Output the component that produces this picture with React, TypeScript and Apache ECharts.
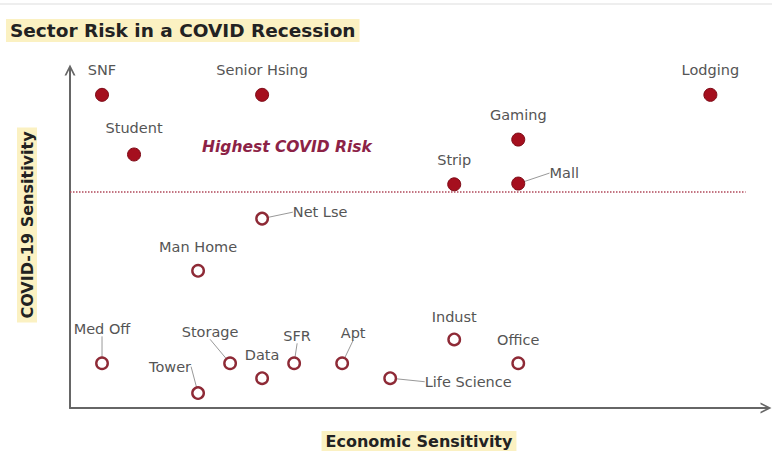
import React, { useEffect, useRef } from "react";
import * as echarts from "echarts";

const highNames = ["SNF", "Senior Hsing", "Student", "Lodging", "Gaming", "Strip", "Mall"];
const highX = [1, 6, 2, 20, 14, 12, 14];
const highY = [21, 21, 17, 21, 18, 15, 15.05];

const lowNames = ["Net Lse", "Man Home", "Med Off", "Tower", "Storage", "Data", "SFR", "Apt", "Life Science", "Indust", "Office"];
const lowX = [6, 4, 1, 4, 5, 6, 7, 8.5, 10, 12, 14];
const lowY = [12.7, 9.2, 3, 1, 3, 2, 3, 3, 2, 4.6, 3];

const riskThreshold = 14.5;
const riskLineEndX = 21.1;
const xMax = 21.8;
const yMax = 22.8;

// label offsets (dx, dy) relative to the default "top" label position, and whether a leader line is drawn
const highLabelShift: [number, number, boolean][] = [
  [0, -2, false], [0, -2, false], [0, -4, false], [0, -2, false], [0, -2, false], [0, -2, false], [46, 12, true],
];
const lowLabelShift: [number, number, boolean][] = [
  [58, 16, true], [0, -1, false], [0, -12, true], [-28, -4, true], [-20, -9, true], [0, -1, false],
  [3, -5, true], [11, -8, true], [78, 26, true], [0, 0, false], [0, -1, false],
];

const chevron = "path://M0,10 L5,0 L10,10 L8.3,10 L5,3.4 L1.7,10 Z";

export default function App() {
  const ref = useRef<HTMLDivElement>(null);
  useEffect(() => {
    if (!ref.current) return;
    const chart = echarts.init(ref.current, null, { renderer: "svg" });
    const font = "'DejaVu Sans', Verdana, sans-serif";
    const labelBase = {
      show: true,
      position: "top" as const,
      distance: 8,
      color: "#555",
      fontSize: 14.5,
      fontFamily: font,
      formatter: (p: any) => p.name,
    };
    const mk = (names: string[], xs: number[], ys: number[], shift: [number, number, boolean][]) =>
      names.map((n, i) => ({
        name: n,
        value: [xs[i], ys[i]],
        labelLine: { show: shift[i][2], lineStyle: { color: "#999", width: 1 } },
      }));
    const axisLine = {
      show: true,
      symbol: ["none", chevron],
      symbolSize: [13, 11],
      symbolOffset: [0, -2],
      lineStyle: { color: "#666", width: 2 },
    };
    chart.setOption({
      animation: false,
      backgroundColor: "#fff",
      title: {
        text: "Sector Risk in a COVID Recession",
        left: 6,
        top: 19,
        padding: [2, 4, 2, 4],
        backgroundColor: "#fbf1c2",
        textStyle: { fontFamily: font, fontWeight: "bold", fontSize: 18.5, color: "#222" },
      },
      grid: { left: 70, top: 68, width: 698, height: 342, containLabel: false },
      xAxis: {
        type: "value",
        min: 0,
        max: xMax,
        name: "Economic Sensitivity",
        nameLocation: "middle",
        nameGap: 23,
        nameTextStyle: {
          fontFamily: font,
          fontWeight: "bold",
          fontSize: 16,
          color: "#222",
          backgroundColor: "#fbf1c2",
          padding: [2, 4, 2, 4],
        },
        axisLine,
        axisTick: { show: false },
        axisLabel: { show: false },
        splitLine: { show: false },
      },
      yAxis: {
        type: "value",
        min: 0,
        max: yMax,
        axisLine,
        axisTick: { show: false },
        axisLabel: { show: false },
        splitLine: { show: false },
      },
      graphic: [
        {
          type: "text",
          x: 27,
          y: 225,
          rotation: Math.PI / 2,
          style: {
            text: "COVID-19 Sensitivity",
            fill: "#222",
            font: `bold 16px ${font}`,
            align: "center",
            verticalAlign: "middle",
            backgroundColor: "#fbf1c2",
            padding: [2, 4, 2, 4],
          },
        },
        {
          type: "text",
          left: 202,
          top: 139,
          style: {
            text: "Highest COVID Risk",
            fill: "#8c2246",
            font: `italic bold 15.5px ${font}`,
          },
        },
        {
          type: "rect",
          left: 0,
          top: 3,
          shape: { width: 772, height: 2 },
          style: { fill: "#eeeeee" },
        },
      ],
      series: [
        {
          type: "scatter",
          name: "High",
          symbol: "circle",
          symbolSize: 13,
          itemStyle: { color: "#a50f1e", borderColor: "#7d0a16", borderWidth: 1, opacity: 1 },
          label: labelBase,
          labelLayout: (p: any) => ({ dx: highLabelShift[p.dataIndex][0], dy: highLabelShift[p.dataIndex][1] }),
          data: mk(highNames, highX, highY, highLabelShift),
          markLine: {
            silent: true,
            symbol: "none",
            label: { show: false },
            lineStyle: { type: "dotted", color: "#b0485a", width: 1.5 },
            data: [[{ coord: [0, riskThreshold] }, { coord: [riskLineEndX, riskThreshold] }]],
          },
        },
        {
          type: "scatter",
          name: "Low",
          symbol: "circle",
          symbolSize: 11.5,
          itemStyle: { color: "#fff", borderColor: "#8e2a36", borderWidth: 2.4, opacity: 1 },
          label: labelBase,
          labelLayout: (p: any) => ({ dx: lowLabelShift[p.dataIndex][0], dy: lowLabelShift[p.dataIndex][1] }),
          data: mk(lowNames, lowX, lowY, lowLabelShift),
        },
      ],
    });
    return () => chart.dispose();
  }, []);
  return <div ref={ref} style={{ position: "fixed", left: 0, top: 0, width: 772, height: 456 }} />;
}
